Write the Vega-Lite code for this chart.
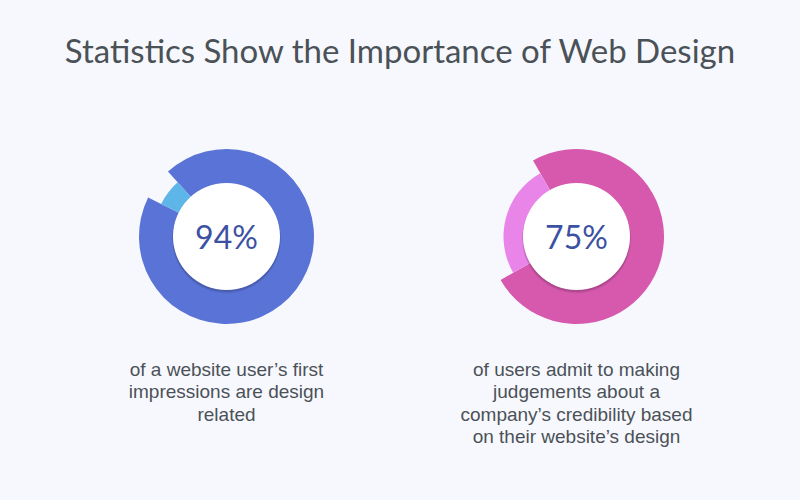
{
  "$schema": "https://vega.github.io/schema/vega-lite/v6.json",
  "width": 800,
  "height": 500,
  "autosize": "none",
  "padding": 0,
  "background": "#f7f8fe",
  "config": {"view": {"stroke": null}},
  "title": {
    "text": "Statistics Show the Importance of Web Design",
    "anchor": "middle",
    "frame": "group",
    "orient": "top",
    "offset": -62,
    "dy": 34,
    "baseline": "alphabetic",
    "font": "Lato",
    "fontSize": 33,
    "fontWeight": "normal",
    "color": "#4a5257"
  },
  "datasets": {
    "donuts": [
      {"chart": "left", "part": "donut", "segment": "main", "value": 94},
      {"chart": "left", "part": "donut", "segment": "rest", "value": 6},
      {"chart": "right", "part": "donut", "segment": "main", "value": 75},
      {"chart": "right", "part": "donut", "segment": "rest", "value": 25}
    ],
    "labels": [
      {"chart": "left", "part": "donut", "pct": "94%"},
      {"chart": "right", "part": "donut", "pct": "75%"}
    ],
    "captions": [
      {"chart": "left", "part": "caption", "text": "of a website user’s first\nimpressions are design\nrelated"},
      {"chart": "right", "part": "caption", "text": "of users admit to making\njudgements about a\ncompany’s credibility based\non their website’s design"}
    ]
  },
  "encoding": {
    "x": {"field": "chart", "type": "nominal", "scale": {"type": "point", "domain": ["left", "right"], "range": [226.5, 576.5], "padding": 0}, "axis": null},
    "y": {"field": "part", "type": "nominal", "scale": {"type": "point", "domain": ["donut", "caption"], "range": [236.5, 375.7], "padding": 0}, "axis": null}
  },
  "layer": [
    {
      "data": {"name": "donuts"},
      "transform": [
        {"filter": "datum.chart == 'left'"},
        {"stack": "value", "groupby": ["chart"], "sort": [{"field": "segment", "order": "ascending"}], "as": ["v0", "v1"]},
        {"filter": "datum.segment == 'main'"}
      ],
      "mark": {"type": "arc", "radius": 87.5, "color": "#5a73d7"},
      "encoding": {
        "theta": {"field": "v0", "type": "quantitative", "scale": {"domain": [0, 100], "range": [-0.733, 5.550]}},
        "theta2": {"field": "v1"}
      }
    },
    {
      "data": {"name": "donuts"},
      "transform": [
        {"filter": "datum.chart == 'left'"},
        {"stack": "value", "groupby": ["chart"], "sort": [{"field": "segment", "order": "ascending"}], "as": ["v0", "v1"]},
        {"filter": "datum.segment == 'rest'"}
      ],
      "mark": {"type": "arc", "radius": 73, "color": "#5db5e8"},
      "encoding": {
        "theta": {"field": "v0", "type": "quantitative", "scale": {"domain": [0, 100], "range": [-0.733, 5.550]}},
        "theta2": {"field": "v1"}
      }
    },
    {
      "data": {"name": "donuts"},
      "transform": [
        {"filter": "datum.chart == 'right'"},
        {"stack": "value", "groupby": ["chart"], "sort": [{"field": "segment", "order": "ascending"}], "as": ["v0", "v1"]},
        {"filter": "datum.segment == 'main'"}
      ],
      "mark": {"type": "arc", "radius": 87.5, "color": "#d659ae"},
      "encoding": {
        "theta": {"field": "v0", "type": "quantitative", "scale": {"domain": [0, 100], "range": [-0.520, 5.763]}},
        "theta2": {"field": "v1"}
      }
    },
    {
      "data": {"name": "donuts"},
      "transform": [
        {"filter": "datum.chart == 'right'"},
        {"stack": "value", "groupby": ["chart"], "sort": [{"field": "segment", "order": "ascending"}], "as": ["v0", "v1"]},
        {"filter": "datum.segment == 'rest'"}
      ],
      "mark": {"type": "arc", "radius": 73, "color": "#e985e8"},
      "encoding": {
        "theta": {"field": "v0", "type": "quantitative", "scale": {"domain": [0, 100], "range": [-0.520, 5.763]}},
        "theta2": {"field": "v1"}
      }
    },
    {
      "data": {"name": "labels"},
      "mark": {"type": "arc", "radius": 54.5, "yOffset": 2.5, "color": "#000000", "opacity": 0.07}
    },
    {
      "data": {"name": "labels"},
      "mark": {"type": "arc", "radius": 54, "yOffset": 1.5, "color": "#000000", "opacity": 0.12}
    },
    {
      "data": {"name": "labels"},
      "mark": {"type": "arc", "radius": 53.5, "color": "#ffffff"}
    },
    {
      "data": {"name": "labels"},
      "mark": {"type": "text", "font": "Lato", "fontSize": 32, "baseline": "alphabetic", "align": "center", "dy": 12, "color": "#3d51a3"},
      "encoding": {"text": {"field": "pct"}}
    },
    {
      "data": {"name": "captions"},
      "mark": {"type": "text", "font": "Liberation Sans", "fontSize": 19, "lineHeight": 22.5, "lineBreak": "\n", "baseline": "alphabetic", "align": "center", "color": "#4b5257"},
      "encoding": {"text": {"field": "text"}}
    }
  ],
  "resolve": {"scale": {"theta": "independent"}}
}
